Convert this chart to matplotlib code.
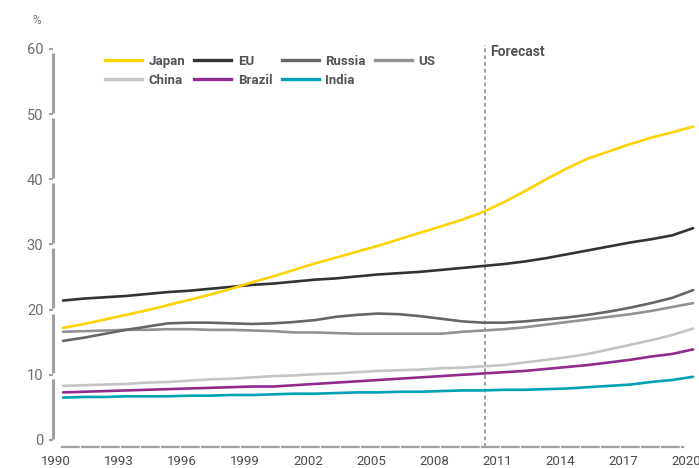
import numpy as np
import matplotlib
matplotlib.use("Agg")
from matplotlib import pyplot as plt
from matplotlib.lines import Line2D
import matplotlib.transforms as mtrans

#############################################################
# Data (share of population, %)
#############################################################
years = np.arange(1990, 2021)
forecastStart = 2010.1

japan = [17.2, 17.8, 18.5, 19.2, 19.9, 20.7, 21.5, 22.3, 23.2, 24.2, 25.1,
         26.1, 27.1, 28.0, 28.9, 29.8, 30.8, 31.8, 32.8, 33.8, 35.0,
         36.5, 38.2, 40.0, 41.7, 43.2, 44.3, 45.4, 46.4, 47.2, 48.1]
eu = [21.4, 21.7, 21.9, 22.1, 22.4, 22.7, 22.9, 23.2, 23.5, 23.8, 24.0,
      24.3, 24.6, 24.8, 25.1, 25.4, 25.6, 25.8, 26.1, 26.4, 26.7,
      27.0, 27.4, 27.9, 28.5, 29.1, 29.7, 30.3, 30.8, 31.4, 32.5]
russia = [15.2, 15.7, 16.3, 16.9, 17.4, 17.9, 18.0, 18.0, 17.9, 17.8, 17.9,
          18.1, 18.4, 18.9, 19.2, 19.4, 19.3, 19.0, 18.6, 18.2, 18.0,
          18.0, 18.2, 18.5, 18.8, 19.2, 19.7, 20.3, 21.0, 21.8, 23.0]
us = [16.6, 16.7, 16.8, 16.9, 16.9, 17.0, 17.0, 16.9, 16.9, 16.8, 16.7,
      16.5, 16.5, 16.4, 16.3, 16.3, 16.3, 16.3, 16.3, 16.6, 16.8,
      17.0, 17.3, 17.7, 18.1, 18.5, 18.9, 19.3, 19.8, 20.4, 21.0]
china = [8.3, 8.4, 8.5, 8.6, 8.8, 8.9, 9.1, 9.3, 9.4, 9.6, 9.8,
         9.9, 10.1, 10.2, 10.4, 10.6, 10.7, 10.8, 11.0, 11.1, 11.3,
         11.5, 11.9, 12.3, 12.7, 13.2, 13.9, 14.6, 15.3, 16.1, 17.1]
brazil = [7.3, 7.4, 7.5, 7.6, 7.7, 7.8, 7.9, 8.0, 8.1, 8.2, 8.2,
          8.4, 8.6, 8.8, 9.0, 9.2, 9.4, 9.6, 9.8, 10.0, 10.2,
          10.4, 10.6, 10.9, 11.2, 11.5, 11.9, 12.3, 12.8, 13.2, 13.9]
india = [6.5, 6.6, 6.6, 6.7, 6.7, 6.7, 6.8, 6.8, 6.9, 6.9, 7.0,
         7.1, 7.1, 7.2, 7.3, 7.3, 7.4, 7.4, 7.5, 7.6, 7.6,
         7.7, 7.7, 7.8, 7.9, 8.1, 8.3, 8.5, 8.9, 9.2, 9.7]

series = [("Japan", japan, "#FFD200"),
          ("EU", eu, "#333333"),
          ("Russia", russia, "#666666"),
          ("US", us, "#929292"),
          ("China", china, "#C4C4C4"),
          ("Brazil", brazil, "#912B8F"),
          ("India", india, "#00A2B4")]

xTicks = np.arange(1990, 2021, 3)
yTicks = np.arange(0, 61, 10)

#############################################################
# Plot
#############################################################
plt.rcParams['font.family'] = ['Roboto', 'DejaVu Sans']
W, H = 699, 468
fig = plt.figure(figsize=(W / 100, H / 100), dpi=100)
ax = fig.add_axes([53 / W, (H - 447) / H, (W - 53) / W, (447 - 49) / H])

for name, vals, col in series[::-1]:
    ax.plot(years, vals, color=col, lw=1.9, solid_capstyle="round", zorder=3)

ax.set_xlim(1989.52, 2020.28)
ax.set_ylim(-1.08, 60)

# axis styling
for s in ["top", "right", "left"]:
    ax.spines[s].set_visible(False)
ax.spines["bottom"].set_color("#A0A0A0")
ax.spines["bottom"].set_linewidth(1.6)
ax.spines["bottom"].set_linestyle((0, (7.5, 1.5)))
ax.spines["bottom"].set_bounds(1989.95, 2019.5)

axTrans = mtrans.blended_transform_factory(ax.transAxes, ax.transData)
for k in range(6):
    ax.plot([0, 0], [yTicks[k] + 0.2, yTicks[k + 1] - 0.6], color="#A0A0A0",
            lw=2.2, transform=axTrans, clip_on=False, solid_capstyle="butt")
ax.set_yticks(yTicks)
ax.tick_params(axis="y", length=3, width=1.5, color="#A0A0A0",
               labelcolor="#6E6E6E", labelsize=10.5, pad=4)
ax.set_xticks(xTicks)
ax.set_xticklabels([str(y) for y in xTicks])
ax.tick_params(axis="x", length=0, labelcolor="#4A4A4A", labelsize=9.5, pad=6)
for lbl in ax.get_xticklabels():
    lbl.set_transform(lbl.get_transform() + mtrans.ScaledTranslation(-7 / 100, 0, fig.dpi_scale_trans))

fig.text(32 / W, 1 - 21 / H, "%", color="#6E6E6E", fontsize=8.5, va="center")

# forecast marker
ax.axvline(forecastStart, ymin=0.0, ymax=1.01, color="#A0A0A0", lw=1.4,
           ls=(0, (2, 1.5)), clip_on=False, zorder=2)
ax.text(forecastStart + 0.25, 59.5, "Forecast", color="#555555", fontsize=10,
        fontweight="bold", va="center", ha="left")

# legend
order = [0, 4, 1, 5, 2, 6, 3]
handles = [Line2D([], [], color=series[i][2], lw=2.4) for i in order]
labels = [series[i][0] for i in order]
leg = fig.legend(handles, labels, ncol=4, loc="upper left",
                 bbox_to_anchor=(93 / W, 1 - 43 / H), frameon=False,
                 handlelength=2.8, handletextpad=0.5, columnspacing=0.7,
                 labelspacing=0.45, fontsize=9.5)
for t in leg.get_texts():
    t.set_color("#555555")
    t.set_fontweight("bold")

fig.savefig("out.png", dpi=100)
